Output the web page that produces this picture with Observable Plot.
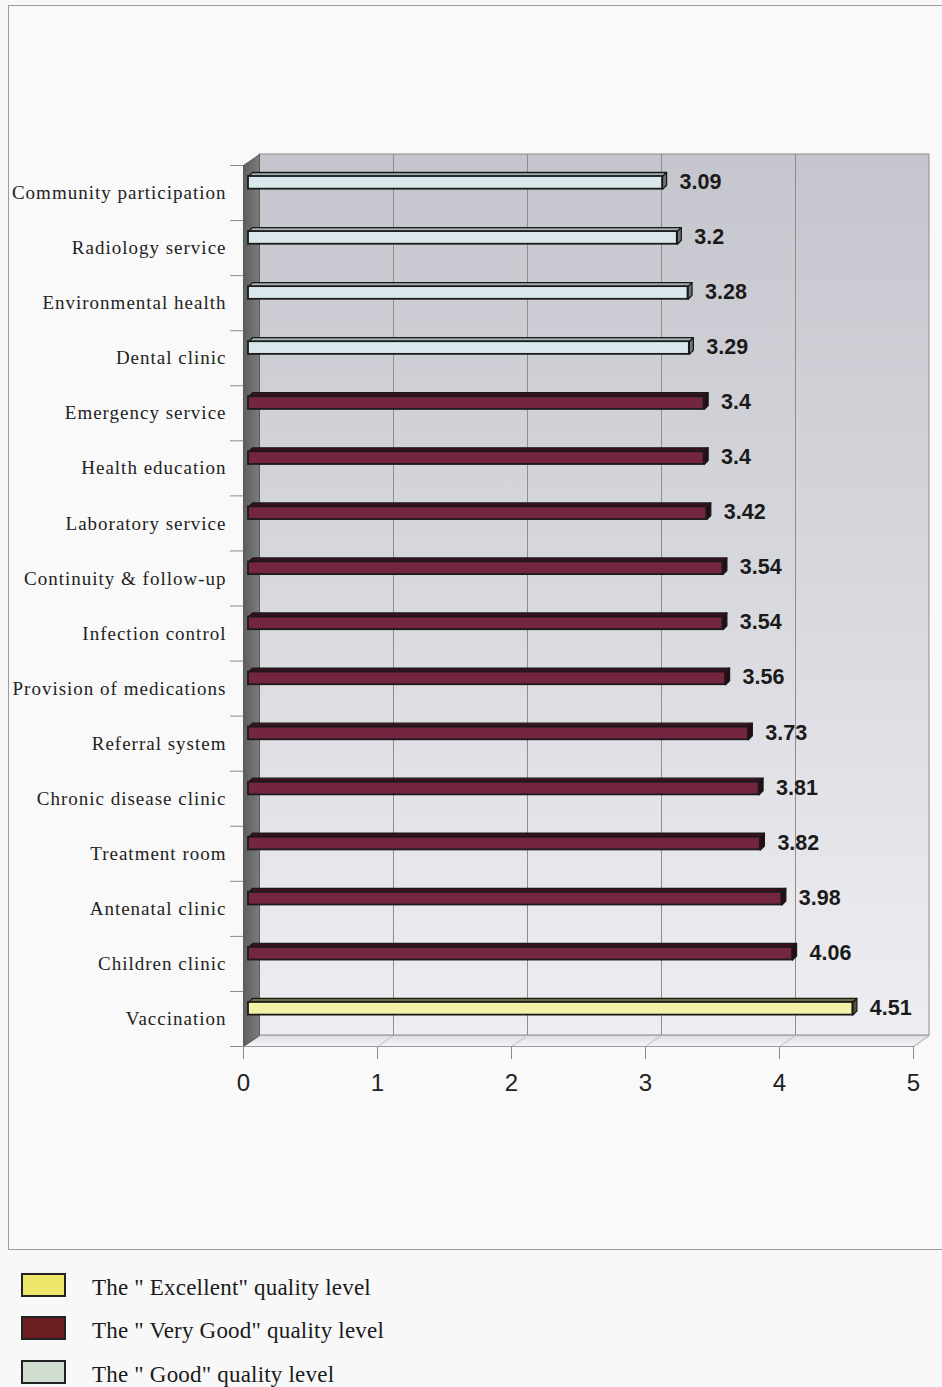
<!DOCTYPE html>
<html><head><meta charset="utf-8">
<script src="https://cdn.jsdelivr.net/npm/d3@7"></script>
<script src="https://cdn.jsdelivr.net/npm/@observablehq/plot@0.6"></script>
<style>
html,body{margin:0;padding:0;background:#f8f8f8;}
body{width:942px;height:1387px;position:relative;overflow:hidden;font-family:"Liberation Serif","Times New Roman",serif;}
#frame{position:absolute;left:8px;top:5px;width:950px;height:1245px;border:1px solid #9c9c9c;box-sizing:border-box;background:#f9f9f9;}
#chart{position:absolute;left:0;top:0;}
#chart svg{overflow:visible;}
.leg{position:absolute;left:21px;height:23px;display:block;}
.box{position:absolute;left:0;top:0;width:41px;height:20px;border:2px solid #222;}
.lt{position:absolute;left:71px;top:2px;font-size:23px;letter-spacing:0.2px;color:#1a1a1a;white-space:nowrap;font-family:"Liberation Serif","Times New Roman",serif;}
</style></head>
<body>
<div id="frame"></div>
<div id="chart"></div>
<div id="legend"></div>
<script>
// ---- data ----
const categories = ["Community participation","Radiology service","Environmental health","Dental clinic","Emergency service","Health education","Laboratory service","Continuity & follow-up","Infection control","Provision of medications","Referral system","Chronic disease clinic","Treatment room","Antenatal clinic","Children clinic","Vaccination"];
const values = [3.09,3.2,3.28,3.29,3.4,3.4,3.42,3.54,3.54,3.56,3.73,3.81,3.82,3.98,4.06,4.51];
const levels = ["Good","Good","Good","Good","Very Good","Very Good","Very Good","Very Good","Very Good","Very Good","Very Good","Very Good","Very Good","Very Good","Very Good","Excellent"];
const xTicks = [0,1,2,3,4,5];
const legendLevels = ["Excellent","Very Good","Good"];
const legendLabels = ['The " Excellent" quality level','The " Very Good" quality level','The " Good" quality level'];

// ---- styles ----
const frontColor = {"Good":"#d9e8ec","Very Good":"#742641","Excellent":"#f2f1a8"};
const topColor = {"Good":"#9fb1b5","Very Good":"#3c0f20","Excellent":"#6e6c45"};
const endColor = {"Good":"#6d7779","Very Good":"#2a0a15","Excellent":"#56553a"};
const legendColor = {"Excellent":"#eee66a","Very Good":"#6b1d21","Good":"#d0dcd0"};

const xDomain = [0,5], xRange = [243,913];
const yDomain = [0,categories.length], yRange = [165,1046];
const ux = (xDomain[1]-xDomain[0])/(xRange[1]-xRange[0]);
const uy = (yDomain[1]-yDomain[0])/(yRange[1]-yRange[0]);
const WDX = 16, WDY = -11;      // wall depth in px
const wx = v => v + WDX*ux, wy = v => v + WDY*uy;
const BD = 4;                   // bar depth in px
const N = categories.length;

const bars = categories.map((c,i)=>({c, i, v: values[i], level: levels[i]}));
const y0 = 0.2, y1 = 0.43;

function poly(pts, extra){ return pts.concat([pts[0]]).map(([x,y])=>Object.assign({x,y},extra)); }

const topPts = bars.flatMap(d => poly([[0,d.i+y0],[d.v,d.i+y0],[d.v+BD*ux,d.i+y0-BD*uy],[BD*ux,d.i+y0-BD*uy]], {id:d.i, level:d.level}));
const endPts = bars.flatMap(d => poly([[d.v,d.i+y0],[d.v+BD*ux,d.i+y0-BD*uy],[d.v+BD*ux,d.i+y1-BD*uy],[d.v,d.i+y1]], {id:d.i, level:d.level}));
const leftWall = poly([[0,0],[wx(0),wy(0)],[wx(0),wy(N)],[0,N]], {});
const floor = poly([[0,N],[5,N],[wx(5),wy(N)],[wx(0),wy(N)]], {});

const plot = Plot.plot({
  width: 942, height: 1252,
  marginLeft: 0, marginRight: 0, marginTop: 0, marginBottom: 0,
  x: {domain: xDomain, range: xRange, axis: null},
  y: {domain: yDomain, range: yRange, axis: null},
  style: {background: "transparent"},
  marks: [
    // back wall
    Plot.rect([{}], {x1: () => wx(0), x2: () => wx(5), y1: () => wy(0), y2: () => wy(N), fill: "url(#wallGrad)", stroke: "#8c8c8c", strokeWidth: 1}),
    Plot.ruleX(xTicks.slice(1, -1), {x: d => wx(d), y1: () => wy(0), y2: () => wy(N), stroke: "#8e8e8e", strokeWidth: 1}),
    // floor
    Plot.line(floor, {x: "x", y: "y", fill: "url(#floorGrad)", stroke: "#a8a8b0", strokeWidth: 1, curve: "linear"}),
    Plot.link(xTicks, {x1: d => d, y1: () => N, x2: d => wx(d), y2: () => wy(N), stroke: "#bdbdc6", strokeWidth: 1}),
    // left wall
    Plot.line(leftWall, {x: "x", y: "y", fill: "url(#leftGrad)", stroke: "#5a5a5a", strokeWidth: 1, curve: "linear"}),
    // ticks
    Plot.ruleY(d3.range(N + 1), {x1: () => -13*ux, x2: 0, stroke: "#8a8a8a", strokeWidth: 1}),
    Plot.ruleX(xTicks, {x: d => d, y1: () => N, y2: () => N + 13*uy, stroke: "#8a8a8a", strokeWidth: 1}),
    Plot.ruleY([N], {x1: 0, x2: 5, stroke: "#9a9a9a", strokeWidth: 1}),
    // bars
    Plot.line(topPts, {x: "x", y: "y", z: "id", fill: d => topColor[d.level], stroke: "#1a1a1a", strokeWidth: 1.3, dx: 5, curve: "linear"}),
    Plot.line(endPts, {x: "x", y: "y", z: "id", fill: d => endColor[d.level], stroke: "#1a1a1a", strokeWidth: 1.3, dx: 5, curve: "linear"}),
    Plot.rect(bars, {x1: 0, x2: "v", y1: d => d.i + y0, y2: d => d.i + y1, dx: 5, fill: d => frontColor[d.level], stroke: "#1a1a1a", strokeWidth: 1.8}),
    // value labels
    Plot.text(bars, {x: "v", y: d => d.i + 0.3, text: d => String(d.v), dx: 22, textAnchor: "start", fontWeight: "bold", fontSize: 21.5, fontFamily: "Liberation Sans, Arial, sans-serif", fill: "#1a1a1a"}),
    // category labels
    Plot.text(bars, {x: 0, y: d => d.i + 0.5, text: "c", dx: -17, textAnchor: "end", fontSize: 19, fontFamily: "Liberation Serif, Times New Roman, serif", fill: "#222"}),
    // x tick labels
    Plot.text(xTicks, {x: d => d, y: () => N, dy: 37, text: d => String(d), fontSize: 24, fontFamily: "Liberation Sans, Arial, sans-serif", fill: "#222"})
  ]
});

const ns = "http://www.w3.org/2000/svg";
const defs = document.createElementNS(ns, "defs");
defs.innerHTML = `
<linearGradient id="wallGrad" x1="0" y1="0" x2="0" y2="1">
  <stop offset="0" stop-color="#c5c5cd"/><stop offset="0.5" stop-color="#d8d8df"/><stop offset="1" stop-color="#eeeef2"/>
</linearGradient>
<linearGradient id="leftGrad" x1="0" y1="0" x2="1" y2="0">
  <stop offset="0" stop-color="#5e5e5e"/><stop offset="1" stop-color="#7c7c7c"/>
</linearGradient>
<linearGradient id="floorGrad" x1="0" y1="0" x2="0" y2="1">
  <stop offset="0" stop-color="#dcdce6"/><stop offset="1" stop-color="#f6f6f8"/>
</linearGradient>`;
plot.insertBefore(defs, plot.firstChild);
// widen letter spacing of the category labels
plot.querySelectorAll("text").forEach(t => {
  if (categories.includes(t.textContent)) t.style.letterSpacing = "1px";
});
document.getElementById("chart").appendChild(plot);

// legend
const leg = document.getElementById("legend");
const tops = [1273, 1316, 1360];
legendLevels.forEach((lv, k) => {
  const item = document.createElement("div");
  item.className = "leg";
  item.style.top = tops[k] + "px";
  item.innerHTML = `<div class="box" style="background:${legendColor[lv]}"></div><div class="lt">${legendLabels[k]}</div>`;
  leg.appendChild(item);
});
</script>
</body></html>
